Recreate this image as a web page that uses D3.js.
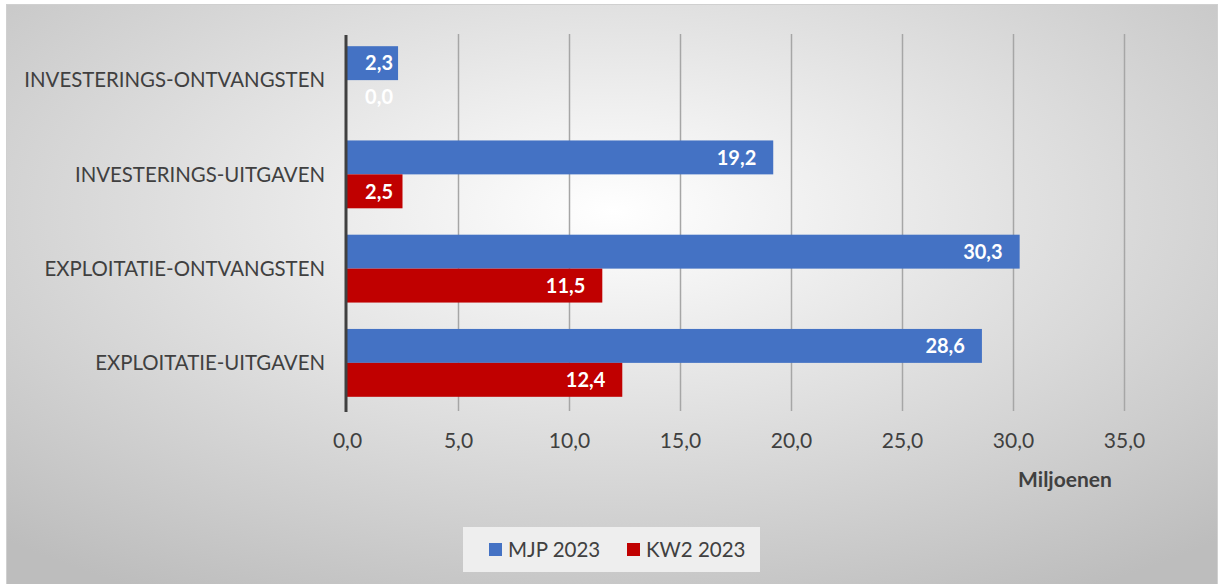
<!DOCTYPE html>
<html>
<head>
<meta charset="utf-8">
<script src="https://cdn.jsdelivr.net/npm/d3@7"></script>
<style>
  html, body { margin: 0; padding: 0; background: #fff; }
  svg { display: block; }
  text { font-family: Lato, "Open Sans", sans-serif; }
</style>
</head>
<body>
<svg id="chart" width="1225" height="584"></svg>
<script>
// data
const categories = ["INVESTERINGS-ONTVANGSTEN", "INVESTERINGS-UITGAVEN", "EXPLOITATIE-ONTVANGSTEN", "EXPLOITATIE-UITGAVEN"];
const seriesNames = ["MJP 2023", "KW2 2023"];
const mjp2023 = [2.3, 19.2, 30.3, 28.6];
const kw22023 = [0.0, 2.5, 11.5, 12.4];
const xTicks = [0, 5, 10, 15, 20, 25, 30, 35];
const colors = ["#4472c4", "#c00000"];

const svg = d3.select("#chart");
const W = 1225, H = 584;

// achtergrond met radiaal verloop
const defs = svg.append("defs");
const grad = defs.append("radialGradient").attr("id", "bg")
  .attr("cx", "50%").attr("cy", "35%").attr("r", "75%");
grad.append("stop").attr("offset", "0%").attr("stop-color", "#ffffff");
grad.append("stop").attr("offset", "100%").attr("stop-color", "#bdbdbd");

svg.append("rect").attr("x", 0).attr("y", 0).attr("width", W).attr("height", H).attr("fill", "#ffffff");
svg.append("rect")
  .attr("x", 6.5).attr("y", 4.5).attr("width", 1211).attr("height", 590)
  .attr("fill", "url(#bg)").attr("stroke", "#d0d0d0").attr("stroke-width", 1);

const plot = { left: 347, right: 1124, top: 33, bottom: 410 };

const x = d3.scaleLinear().domain([0, 35]).range([plot.left, plot.right]);
const y = d3.scaleBand().domain(categories).range([plot.top, plot.bottom]).paddingInner(0.28).paddingOuter(0.14);
const ySub = d3.scaleBand().domain(seriesNames).range([0, y.bandwidth()]);

const fmt = v => d3.format(".1f")(v).replace(".", ",");

// gridlijnen (met tick-stukje onder de as)
const xAxis = d3.axisBottom(x).tickValues(xTicks).tickFormat(fmt);

const gx = svg.append("g").attr("transform", `translate(0,${plot.bottom + 1})`).call(xAxis);
gx.select(".domain").remove();
gx.selectAll(".tick line").attr("stroke", "#a6a6a6").attr("stroke-width", 1.5)
  .attr("y1", 0).attr("y2", -(plot.bottom - plot.top));
gx.selectAll(".tick").filter(d => d === 0).select("line").remove();
gx.selectAll(".tick text")
  .attr("y", 30).attr("dy", "0.32em")
  .attr("fill", "#404040").style("font-size", "21px");

// balken
const groups = svg.append("g").selectAll("g")
  .data(categories)
  .join("g")
  .attr("transform", d => `translate(0,${y(d)})`);

const rows = categories.map((c, i) => [
  { cat: c, s: seriesNames[0], v: mjp2023[i], color: colors[0] },
  { cat: c, s: seriesNames[1], v: kw22023[i], color: colors[1] }
]);

groups.each(function (c, i) {
  const g = d3.select(this);
  g.selectAll("rect")
    .data(rows[i])
    .join("rect")
    .attr("x", x(0))
    .attr("y", d => ySub(d.s))
    .attr("width", d => x(d.v) - x(0))
    .attr("height", ySub.bandwidth())
    .attr("fill", d => d.color);

  g.selectAll("text.lbl")
    .data(rows[i])
    .join("text")
    .attr("class", "lbl")
    .attr("x", d => Math.max(x(d.v) - 17, x(0) + 46))
    .attr("y", d => ySub(d.s) + ySub.bandwidth() / 2)
    .attr("dy", "0.36em")
    .attr("text-anchor", "end")
    .attr("fill", "#ffffff")
    .style("font-size", "20px")
    .style("font-weight", "bold")
    .text(d => fmt(d.v));
});

// as links
svg.append("line")
  .attr("x1", x(0) - 1).attr("x2", x(0) - 1)
  .attr("y1", plot.top + 2).attr("y2", plot.bottom + 2)
  .attr("stroke", "#404040").attr("stroke-width", 3);

// categorielabels
svg.append("g").selectAll("text")
  .data(categories)
  .join("text")
  .attr("x", 325)
  .attr("y", d => y(d) + y.bandwidth() / 2)
  .attr("dy", "0.36em")
  .attr("text-anchor", "end")
  .attr("fill", "#404040")
  .style("font-size", "20.4px")
  .text(d => d);

// as-titel
svg.append("text")
  .attr("x", 1065).attr("y", 479)
  .attr("dy", "0.36em")
  .attr("text-anchor", "middle")
  .attr("fill", "#404040")
  .style("font-size", "21px")
  .style("font-weight", "bold")
  .text("Miljoenen");

// legenda
const lg = svg.append("g").attr("transform", "translate(463,527)");
lg.append("rect").attr("width", 297).attr("height", 45).attr("fill", "#eeeeee");
const items = lg.selectAll("g.item")
  .data(seriesNames)
  .join("g")
  .attr("class", "item")
  .attr("transform", (d, i) => `translate(${i === 0 ? 26 : 164},0)`);
items.append("rect")
  .attr("x", 0).attr("y", 16).attr("width", 13).attr("height", 13)
  .attr("fill", (d, i) => colors[i]);
items.append("text")
  .attr("x", 19).attr("y", 23).attr("dy", "0.36em")
  .attr("fill", "#404040")
  .style("font-size", "20.5px")
  .text(d => d);
</script>
</body>
</html>
